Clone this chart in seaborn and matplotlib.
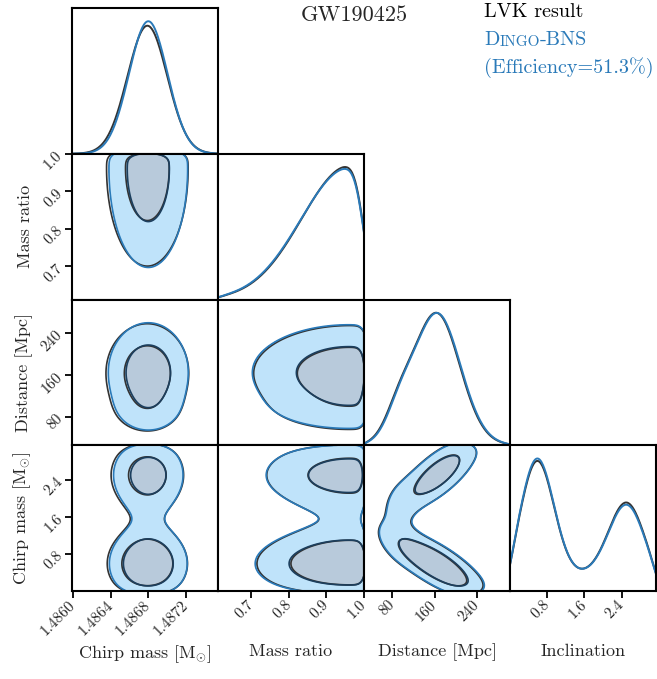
import numpy as np
import pandas as pd
import matplotlib
matplotlib.use("Agg")
import matplotlib.pyplot as plt
import seaborn as sns

sns.set_style("ticks")
plt.rcParams['font.family'] = ['cmr10', 'DejaVu Serif']
plt.rcParams['mathtext.fontset'] = 'cm'
plt.rcParams['axes.formatter.use_mathtext'] = True
plt.rcParams['axes.unicode_minus'] = False

# axes of the corner plot
x_labels = ["Chirp mass [$\\mathrm{M}_{\\odot}$]", "Mass ratio", "Distance [Mpc]", "Inclination"]
y_labels = ["", "Mass ratio", "Distance [Mpc]", "Chirp mass [$\\mathrm{M}_{\\odot}$]"]
limits = [(1.48599, 1.48754), (0.611, 1.0), (26, 303), (0.0, np.pi)]
ticks = [[1.4860, 1.4864, 1.4868, 1.4872], [0.7, 0.8, 0.9, 1.0], [80, 160, 240], [0.8, 1.6, 2.4]]
tick_labels = [["1.4860", "1.4864", "1.4868", "1.4872"], ["0.7", "0.8", "0.9", "1.0"],
               ["80", "160", "240"], ["0.8", "1.6", "2.4"]]

# posterior shapes: (mean, sd) and a 3-mode distance/inclination mixture
lvk_chirp = [1.48679, 0.000207]
lvk_q = [0.962, 0.126]
lvk_weight = [0.53, 0.38, 0.09]
lvk_dist_mean = [160, 166, 92]
lvk_dist_sd = [48, 40, 24]
lvk_incl_mean = [0.58, 2.52, 1.6]
lvk_incl_sd = [0.35, 0.38, 0.55]
lvk_rho = [-0.84, 0.80, 0.0]

dingo_chirp = [1.48680, 0.000200]
dingo_q = [0.960, 0.127]
dingo_weight = [0.54, 0.37, 0.09]
dingo_dist_mean = [162, 167, 94]
dingo_dist_sd = [48, 40, 24]
dingo_incl_mean = [0.58, 2.52, 1.6]
dingo_incl_sd = [0.35, 0.38, 0.55]
dingo_rho = [-0.84, 0.80, 0.0]

bw_1d = [0.2, 0.25, 0.14, 0.12]
bw_2d = 0.15

lvk = dict(chirp=lvk_chirp, q=lvk_q, weight=lvk_weight, dist_mean=lvk_dist_mean,
           dist_sd=lvk_dist_sd, incl_mean=lvk_incl_mean, incl_sd=lvk_incl_sd, rho=lvk_rho)
dingo = dict(chirp=dingo_chirp, q=dingo_q, weight=dingo_weight, dist_mean=dingo_dist_mean,
             dist_sd=dingo_dist_sd, incl_mean=dingo_incl_mean, incl_sd=dingo_incl_sd, rho=dingo_rho)

lvk_color = "#333333"
dingo_color = "#2a7ab9"
fill_90 = "#bfe3fa"
fill_50 = "#b8cadb"
edge_50 = "#1c3f5e"


def normal(x, m, s):
    return np.exp(-0.5 * ((x - m) / s) ** 2) / s


def marginal(model, i, x):
    if i == 0:
        return normal(x, *model["chirp"])
    if i == 1:
        return normal(x, *model["q"]) * (x <= 1.0)
    out = 0
    for k, w in enumerate(model["weight"]):
        if i == 2:
            out = out + w * normal(x, model["dist_mean"][k], model["dist_sd"][k])
        else:
            out = out + w * normal(x, model["incl_mean"][k], model["incl_sd"][k])
    return out


def joint(model, i, j, x, y):
    if (i, j) != (2, 3):
        return marginal(model, i, x) * marginal(model, j, y)
    out = 0
    for k, w in enumerate(model["weight"]):
        zx = (x - model["dist_mean"][k]) / model["dist_sd"][k]
        zy = (y - model["incl_mean"][k]) / model["incl_sd"][k]
        r = model["rho"][k]
        norm = model["dist_sd"][k] * model["incl_sd"][k] * np.sqrt(1 - r ** 2)
        out = out + w * np.exp(-(zx ** 2 - 2 * r * zx * zy + zy ** 2) / (2 * (1 - r ** 2))) / norm
    return out


def grid_frame(model, i, j):
    xs = np.linspace(*limits[i], 70)
    ys = np.linspace(*limits[j], 70)
    X, Y = np.meshgrid(xs, ys)
    W = joint(model, i, j, X, Y)
    df = pd.DataFrame({"x": X.ravel(), "y": Y.ravel(), "w": W.ravel()})
    return df[df["w"] > df["w"].max() * 1e-5]


def kde2d(ax, df, clip, **kws):
    sns.kdeplot(data=df, x="x", y="y", weights="w", bw_method=bw_2d, clip=clip,
                gridsize=150, ax=ax, **kws)


fig, axes = plt.subplots(4, 4, figsize=(6.57, 6.79), dpi=100)
fig.subplots_adjust(left=72 / 657, right=656 / 657, bottom=1 - 591 / 679, top=1 - 8 / 679,
                    wspace=0, hspace=0)

for r in range(4):
    for c in range(4):
        ax = axes[r, c]
        if c > r:
            ax.axis("off")
            continue
        if c == r:
            xs = np.linspace(*limits[c], 400)
            for model, color in [(lvk, lvk_color), (dingo, dingo_color)]:
                sns.kdeplot(x=xs, weights=marginal(model, c, xs), bw_method=bw_1d[c],
                            clip=limits[c], color=color, lw=1.4, ax=ax)
            top = max(line.get_ydata().max() for line in ax.lines)
            ax.set_ylim(0, top * 1.1)
        else:
            clip = (limits[c], limits[r])
            d_df = grid_frame(dingo, c, r)
            l_df = grid_frame(lvk, c, r)
            kde2d(ax, d_df, clip, fill=True, levels=[0.1, 0.5, 1], color=fill_90,
                  colors=[fill_90, fill_50])
            kde2d(ax, l_df, clip, levels=[0.1, 0.5], color=lvk_color,
                  colors=[lvk_color, lvk_color], linewidths=1.2)
            kde2d(ax, d_df, clip, levels=[0.1, 0.5], color=dingo_color,
                  colors=[dingo_color, edge_50], linewidths=1.2)
            ax.set_ylim(limits[r])
        ax.set_xlim(limits[c])
        ax.set_xlabel("")
        ax.set_ylabel("")
        for s in ax.spines.values():
            s.set_color("black")
            s.set_linewidth(1.5)
        ax.tick_params(direction="out", length=5, width=1.3, labelsize=11, color="black")
        if r == 3:
            ax.set_xticks(ticks[c])
            ax.set_xticklabels(tick_labels[c], rotation=45, ha="right", va="center",
                               rotation_mode="anchor")
            ax.set_xlabel(x_labels[c], fontsize=13)
        else:
            ax.set_xticks([])
        if c == 0 and r > 0:
            ax.set_yticks(ticks[r])
            ax.set_yticklabels(tick_labels[r], rotation=45, ha="right", va="center",
                               rotation_mode="anchor")
            ax.set_ylabel(y_labels[r], fontsize=13)
        else:
            ax.set_yticks([])

fig.align_ylabels(axes[:, 0])
fig.align_xlabels(axes[3, :])

fig.text(0.54, 0.977, "GW190425", ha="center", va="center", fontsize=16)
fig.text(0.737, 0.982, "LVK result", ha="left", va="center", fontsize=14.5, color="black")
t1 = fig.text(0.737, 0.941, "D", ha="left", va="center", fontsize=14.5, color=dingo_color)
a2 = axes[0, 0].annotate("INGO", xy=(1, 0), xycoords=t1, va="bottom", ha="left",
                         fontsize=11, color=dingo_color, annotation_clip=False)
axes[0, 0].annotate("-BNS", xy=(1, 0), xycoords=a2, va="bottom", ha="left",
                    fontsize=14.5, color=dingo_color, annotation_clip=False)
fig.text(0.737, 0.900, "(Efficiency=51.3%)", ha="left", va="center", fontsize=14.5,
         color=dingo_color)

plt.savefig("out.png", dpi=100)
